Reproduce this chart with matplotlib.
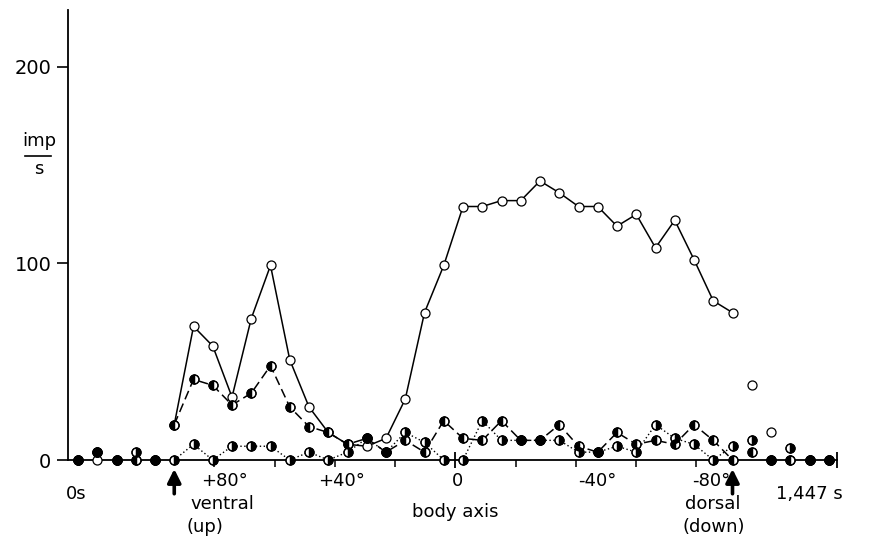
import matplotlib.pyplot as plt
from matplotlib.transforms import blended_transform_factory

# positions along the time axis (sample number), responses in imp/s
idx_line = list(range(5, 35))
open_line = [18, 68, 58, 32, 72, 99, 51, 27, 14, 8, 7, 11, 31, 75, 99,
             129, 129, 132, 132, 142, 136, 129, 129, 119, 125, 108, 122, 102, 81, 75]
dashed_line = [18, 41, 38, 28, 34, 48, 27, 17, 14, 8, 11, 4, 10, 4, 20,
               11, 10, 20, 10, 10, 18, 7, 4, 14, 8, 10, 8, 18, 10, 0]
dotted_line = [0, 8, 0, 7, 7, 7, 0, 4, 0, 4, 11, 4, 14, 9, 0,
               0, 20, 10, 10, 10, 10, 4, 4, 7, 4, 18, 11, 8, 0, 7]

# points outside the rotation (no connecting lines)
idx_base = [0, 1, 2, 3, 4, 35, 36, 37, 38, 39]
open_base = [0, 0, 0, 0, 0, 38, 14, 0, 0, 0]
dashed_base = [0, 4, 0, 0, 0, 4, 0, 0, 0, 0]
dotted_base = [0, 4, 0, 4, 0, 10, 0, 6, 0, 0]

# body-axis angle ticks
angle_ticks = [7.08, 10.21, 13.34, 16.47, 22.73, 25.86, 28.99, 32.12]
zero_tick = 19.6
end_tick = 39.45
angle_labels = [(7.6, '+80°'), (13.7, '+40°'), (19.7, '0'), (27.0, '-40°'), (32.9, '-80°')]
arrows = [5, 34]

plt.rcParams['font.family'] = ['DejaVu Sans']
fig = plt.figure(figsize=(8.78, 5.47), dpi=100)
ax = fig.add_axes([68 / 878, 87 / 547, 780 / 878, 450 / 547])

ax.plot(idx_line, open_line, color='black', lw=1.1, zorder=2)
ax.plot(idx_line, dashed_line, color='black', lw=1.1, ls=(0, (6, 3)), zorder=2)
ax.plot(idx_line, dotted_line, color='black', lw=1.0, ls=(0, (1, 1.8)), zorder=2)

all_idx = idx_line + idx_base
all_open = open_line + open_base
all_dash = dashed_line + dashed_base
all_dot = dotted_line + dotted_base

mk = dict(marker='o', ms=6.5, ls='none', mec='black', mew=0.9, clip_on=False)
ax.plot(all_idx, all_open, mfc='white', zorder=3, **mk)
ax.plot(all_idx, all_dash, mfc='white', zorder=3, **mk)
ax.plot(all_idx, all_dot, mfc='white', zorder=3, **mk)
ax.plot(all_idx, all_dash, fillstyle='left', mfc='black', mfcalt='none', zorder=4, **mk)
ax.plot(all_idx, all_dot, fillstyle='right', mfc='black', mfcalt='none', zorder=4, **mk)

ax.set_xlim(-0.52, 40)
ax.set_ylim(0, 229)
ax.spines['top'].set_visible(False)
ax.spines['right'].set_visible(False)
ax.spines['bottom'].set_bounds(-0.52, end_tick)
for s in ['left', 'bottom']:
    ax.spines[s].set_linewidth(1.3)

ax.set_yticks([0, 100, 200])
ax.tick_params(axis='y', direction='out', length=8, width=1.2, labelsize=14, pad=4)
ax.set_xticks(angle_ticks)
ax.set_xticklabels([])
ax.tick_params(axis='x', which='major', direction='out', length=5, width=1.1)
ax.set_xticks([zero_tick, end_tick], minor=True)
ax.tick_params(axis='x', which='minor', direction='inout', length=12, width=1.3)

tr = blended_transform_factory(ax.transData, ax.transAxes)
fs = 13
for x, lab in angle_labels:
    ax.text(x, -0.047, lab, transform=tr, ha='center', va='center', fontsize=fs)
ax.text(-0.1, -0.076, '0s', transform=tr, ha='center', va='center', fontsize=fs)
ax.text(38.0, -0.076, '1,447 s', transform=tr, ha='center', va='center', fontsize=fs)
ax.text(7.5, -0.098, 'ventral', transform=tr, ha='center', va='center', fontsize=fs)
ax.text(6.6, -0.149, '(up)', transform=tr, ha='center', va='center', fontsize=fs)
ax.text(19.6, -0.116, 'body axis', transform=tr, ha='center', va='center', fontsize=fs)
ax.text(32.95, -0.098, 'dorsal', transform=tr, ha='center', va='center', fontsize=fs)
ax.text(33.0, -0.149, '(down)', transform=tr, ha='center', va='center', fontsize=fs)

for x in arrows:
    ax.annotate('', xy=(x, -0.02), xytext=(x, -0.075), xycoords=tr, textcoords=tr,
                arrowprops=dict(arrowstyle='-|>', color='black', lw=2.6,
                                mutation_scale=20, shrinkA=0, shrinkB=0))

# unit label imp/s as a small fraction
fig.text(39 / 878, 1 - 141 / 547, 'imp', ha='center', va='center', fontsize=fs)
fig.text(39 / 878, 1 - 169 / 547, 's', ha='center', va='center', fontsize=fs)
fig.add_artist(plt.Line2D([25 / 878, 51 / 878], [1 - 156 / 547, 1 - 156 / 547],
                          color='black', lw=1.2))

fig.savefig('out.png', dpi=100)
